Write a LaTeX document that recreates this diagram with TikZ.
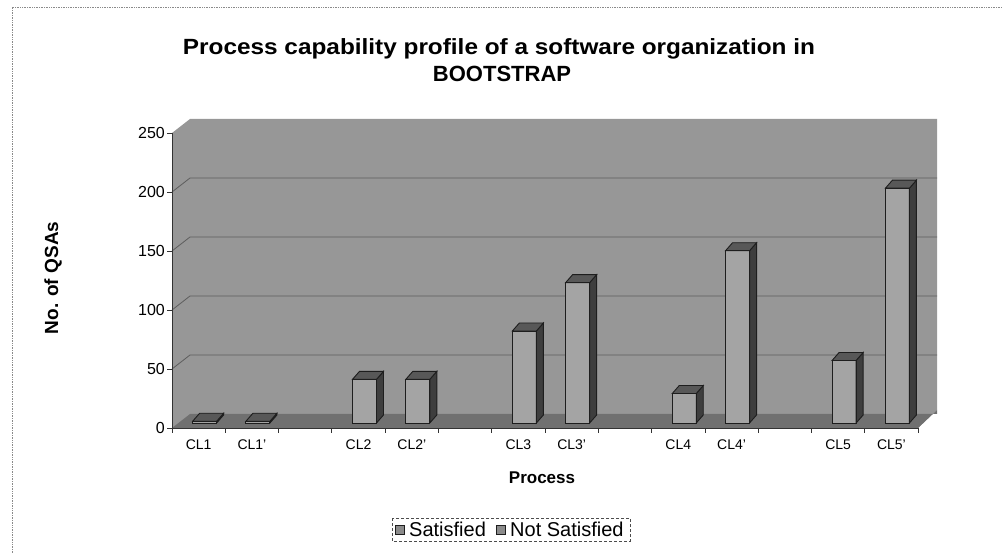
\documentclass[tikz,border=0pt]{standalone}
\usepackage{fontspec}
\usepackage{graphicx}
\setmainfont{Liberation Sans}
\definecolor{wallgray}{HTML}{979797}
\definecolor{floorgray}{HTML}{707070}
\definecolor{gridgray}{HTML}{5E5E5E}
\definecolor{barfront}{HTML}{A4A4A4}
\definecolor{barside}{HTML}{3E3E3E}
\definecolor{bartop}{HTML}{585858}
\definecolor{edgegray}{HTML}{1E1E1E}
\definecolor{framegray}{HTML}{8A8A8A}
\tikzset{
  wall/.style={fill=wallgray},
  floorband/.style={fill=floorgray},
  gridline/.style={draw=gridgray, line width=0.8pt},
  axisline/.style={draw=black!80, line width=0.8pt},
  frontface/.style={fill=barfront, draw=edgegray, line width=0.9pt},
  sideface/.style={fill=barside, draw=edgegray, line width=0.9pt},
  topface/.style={fill=bartop, draw=edgegray, line width=0.9pt},
  ticklabel/.style={font=\fontsize{16}{16}\selectfont, inner sep=0pt},
  catlabel/.style={font=\fontsize{14}{14}\selectfont, inner sep=0pt},
  axistitle/.style={font=\fontsize{17}{17}\selectfont\bfseries, inner sep=0pt},
  charttitle/.style={font=\fontsize{22}{22}\selectfont\bfseries, inner sep=0pt},
  legendbox/.style={draw=black!70, densely dashed, line width=0.6pt},
  legendkey/.style={fill=barfront!85!black, draw=edgegray, line width=0.6pt, minimum size=9pt, inner sep=0pt},
  legendtext/.style={font=\fontsize{20}{20}\selectfont, inner sep=0pt},
  chartframe/.style={draw=framegray, densely dotted, line width=0.7pt}
}
\begin{document}
\begin{tikzpicture}[x=1pt, y=-1pt]
\useasboundingbox (0,0) rectangle (1002,553);

% chart area frame (top and left edges)
\draw[chartframe] (12,553) -- (12,7) -- (1002,7);

% back wall and floor
\fill[wall] (172,428) -- (172,133) -- (190,119) -- (937,119) -- (937,410) -- (918,428) -- cycle;
\fill[floorband] (172,428) -- (190,414) -- (937,414) -- (937,410) -- (918,428) -- cycle;

% horizontal gridlines on the walls
\foreach \v in {50,100,150,200} {
  \pgfmathsetmacro{\gy}{428-\v*1.18}
  \draw[gridline] (172,\gy) -- (190,\gy-14) -- (937,\gy-14);
}

% value axis
\draw[axisline] (172,428) -- (172,133);
\foreach \v in {0,50,100,150,200,250} {
  \pgfmathsetmacro{\gy}{428-\v*1.18}
  \draw[axisline] (167,\gy) -- (172,\gy);
  \node[ticklabel, anchor=east] (yl\v) at (165,\gy) {\v};
}

% category axis
\draw[axisline] (172,428) -- (918,428);
\foreach \k in {0,...,14} {
  \pgfmathsetmacro{\tx}{172+\k*53.29}
  \draw[axisline] (\tx,428) -- (\tx,433);
}
\foreach \k/\lab in {0/CL1, 1/CL1', 3/CL2, 4/CL2', 6/CL3, 7/CL3', 9/CL4, 10/CL4', 12/CL5, 13/CL5'} {
  \pgfmathsetmacro{\cx}{172+(\k+0.5)*53.29}
  \node[catlabel] (xl\k) at (\cx,445) {\lab};
}

% 3-D columns: category index / value
\foreach \k/\v in {0/1.5, 1/1.5, 3/37, 4/37, 6/78, 7/119, 9/25, 10/146, 12/53, 13/199} {
  \pgfmathsetmacro{\L}{172+(\k+0.5)*53.29-6}
  \pgfmathsetmacro{\R}{\L+24}
  \pgfmathsetmacro{\T}{423-\v*1.18}
  \fill[frontface] (\L,423) rectangle (\R,\T);
  \filldraw[sideface] (\R,423) -- (\R+7,415) -- (\R+7,\T-8) -- (\R,\T) -- cycle;
  \filldraw[topface] (\L,\T) -- (\L+7,\T-8) -- (\R+7,\T-8) -- (\R,\T) -- cycle;
  \draw[frontface, fill=none] (\L,423) rectangle (\R,\T);
}

% titles
\node[charttitle] (title1) at (499,49) {\resizebox{632pt}{\height}{Process capability profile of a software organization in}};
\node[charttitle] (title2) at (502,74) {BOOTSTRAP};
\node[axistitle, font=\fontsize{19}{19}\selectfont\bfseries, rotate=90] (ytitle) at (53,278) {No. of QSAs};
\node[axistitle] (xtitle) at (542,478) {Process};

% legend
\draw[legendbox] (392,518) rectangle (630,541);
\node[legendkey] (key1) at (400,529.5) {};
\node[legendtext, anchor=west] (leg1) at (409,529.5) {Satisfied};
\node[legendkey] (key2) at (501,529.5) {};
\node[legendtext, anchor=west] (leg2) at (510,529.5) {Not Satisfied};
\end{tikzpicture}
\end{document}
